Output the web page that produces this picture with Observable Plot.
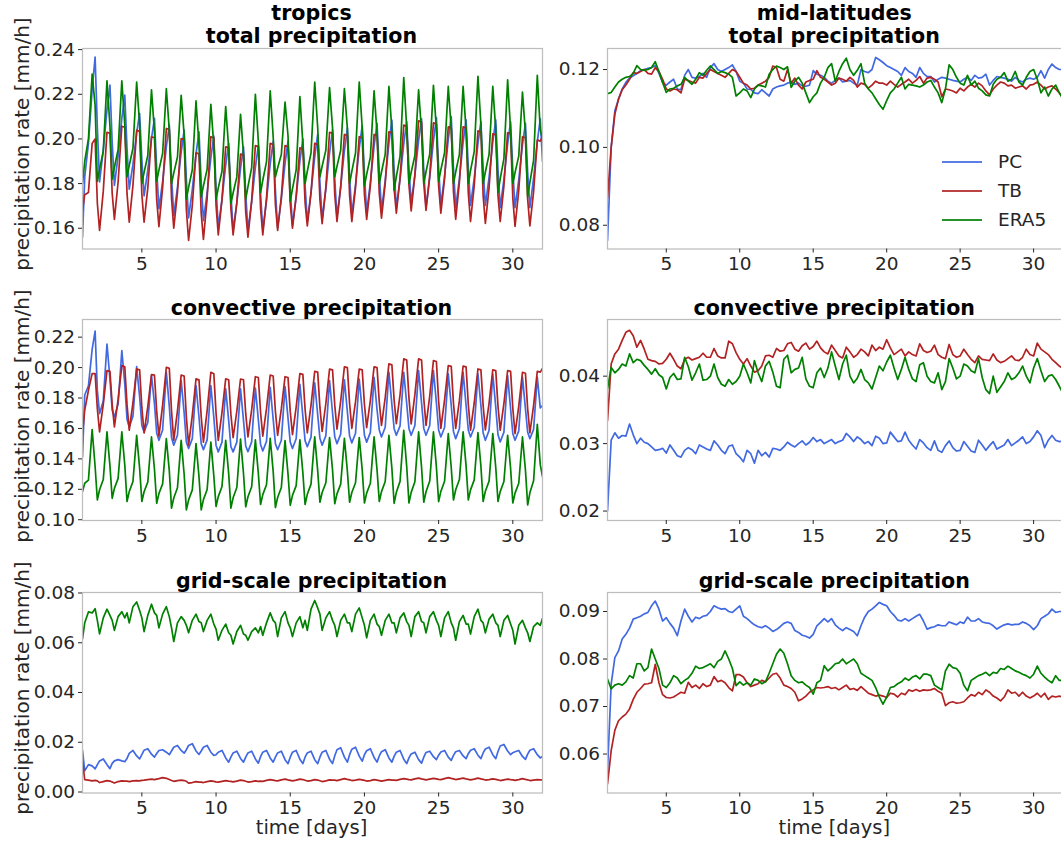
<!DOCTYPE html>
<html>
<head>
<meta charset="utf-8">
<script src="https://cdn.jsdelivr.net/npm/d3@7"></script>
<script src="https://cdn.jsdelivr.net/npm/@observablehq/plot@0.6"></script>
<style>
  html, body { margin: 0; padding: 0; background: #fff; overflow: hidden; }
  #fig { position: relative; width: 1061px; height: 843px; overflow: hidden;
         font-family: "DejaVu Sans", sans-serif; color: #262626; background: #fff; }
  .title { position: absolute; transform: translate(-50%, -50%); white-space: nowrap;
           font-weight: bold; font-size: 20.6px; line-height: 1; color: #000; }
  .xlab { position: absolute; transform: translate(-50%, -50%); white-space: nowrap;
          font-size: 19.5px; line-height: 1; }
  .ylab { position: absolute; transform: translate(-50%, -50%) rotate(-90deg); white-space: nowrap;
          font-size: 20px; line-height: 1; }
  .leg-line { position: absolute; height: 2px; width: 40px; opacity: 0.85; }
  .leg-text { position: absolute; transform: translateY(-50%); font-size: 18.5px; line-height: 1; }
</style>
</head>
<body>
<div id="fig"></div>
<script>
// Models, in drawing order, and their line colours
const models = ["PC", "TB", "ERA5"];
const colors = ["#4169e1", "#b22222", "#008000"];

// Sample times within each day (fraction of a day); the last entry of every
// series is a single value at the start of day 32
const tropicsPhase = [0, 0.15, 0.4, 0.65, 0.85];
const midlatPhase = [0, 0.25, 0.5, 0.75];
const dayTicks = [5, 10, 15, 20, 25, 30];

// ---- tropics, total precipitation [mm/h] (one inner list per day) ----
const tropicsTotalPC = [
  [.156,.183,.198,.222,.2367],[.2052,.1807,.195,.213,.2241],[.1987,.1792,.1925,.2092,.2196],[.1958,.1775,.1887,.2027,.2114],
  [.1905,.1745,.186,.2003,.2092],[.1863,.1687,.181,.1965,.2062],[.1833,.1657,.1783,.1941,.204],[.1817,.1646,.1773,.1933,.2032],
  [.1807,.1634,.1759,.1915,.2013],[.1784,.1605,.1728,.1883,.198],[.1759,.159,.1713,.1868,.1965],[.1753,.1592,.1717,.1873,.197],
  [.1756,.1592,.1724,.1888,.199],[.177,.1602,.173,.189,.199],[.1776,.1612,.174,.19,.2],[.1791,.1632,.176,.192,.202],
  [.1806,.1642,.1774,.1938,.204],[.182,.1652,.1784,.1948,.205],[.183,.1662,.1794,.1958,.206],[.184,.1672,.1804,.1968,.207],
  [.1849,.168,.1813,.198,.2084],[.1864,.1692,.1819,.1978,.2077],[.187,.1712,.1837,.1993,.209],[.1856,.1692,.1825,.1991,.2095],
  [.1872,.1702,.1834,.1998,.21],[.1869,.1692,.1822,.1984,.2085],[.1868,.1702,.1825,.198,.2077],[.1864,.1702,.1828,.1986,.2085],
  [.1864,.1692,.1819,.1978,.2077],[.1859,.1692,.1817,.1973,.207],[.185,.1692,.1824,.1988,.209],[.19]
];
const tropicsTotalTB = [
  [.168,.175,.176,.198,.2],[.1713,.159,.1766,.203,.2025],[.1757,.164,.1807,.2057,.2052],[.1756,.1627,.1792,.2039,.2034],
  [.1751,.1627,.178,.201,.2005],[.1728,.1607,.1783,.2047,.2042],[.1734,.16,.1761,.2002,.1997],[.1683,.1545,.1702,.1938,.1933],
  [.1666,.155,.1734,.201,.2005],[.1702,.157,.1728,.1965,.196],[.1689,.157,.1715,.1932,.1927],[.1672,.156,.1724,.197,.1965],
  [.169,.157,.1734,.198,.1975],[.1707,.159,.1742,.197,.1965],[.1711,.16,.1744,.196,.1955],[.1715,.161,.1758,.198,.1975],
  [.1728,.162,.1784,.203,.2025],[.175,.163,.1786,.202,.2015],[.1747,.163,.1782,.201,.2005],[.1751,.164,.1792,.202,.2015],
  [.1757,.1645,.18,.2032,.2027],[.1777,.1667,.1825,.2062,.2057],[.1793,.1678,.1839,.2081,.2076],[.18,.168,.1837,.2072,.2067],
  [.1789,.1667,.1822,.2054,.2049],[.1764,.164,.1806,.2054,.2049],[.1757,.163,.1792,.2036,.2031],[.1746,.1622,.1782,.2023,.2018],
  [.1748,.163,.179,.2028,.2023],[.1734,.1608,.1769,.201,.2005],[.173,.161,.1764,.1995,.199],[.201]
];
const tropicsTotalERA5 = [
  [.18,.19,.2,.229,.215],[.181,.1864,.1945,.226,.2058],[.182,.1873,.1952,.226,.2062],[.183,.1881,.1958,.2255,.2064],
  [.18,.185,.1926,.222,.2031],[.181,.186,.1935,.2225,.2038],[.18,.1847,.1919,.2195,.2017],[.173,.1783,.1862,.217,.1972],
  [.174,.179,.1865,.2155,.1968],[.173,.178,.1855,.2145,.1958],[.171,.1758,.183,.211,.193],[.173,.1786,.1871,.22,.1989],
  [.176,.1815,.1897,.2215,.201],[.183,.187,.193,.2165,.2014],[.172,.1776,.1861,.219,.1979],[.18,.1855,.1937,.2255,.205],
  [.183,.1878,.195,.223,.205],[.183,.1877,.1949,.2225,.2047],[.18,.1855,.1937,.2255,.205],[.179,.1841,.1918,.2215,.2024],
  [.18,.1852,.1931,.2235,.2039],[.177,.1831,.1922,.2275,.2048],[.18,.185,.1926,.222,.2031],[.18,.1853,.1932,.224,.2042],
  [.181,.1861,.1938,.2235,.2044],[.18,.1852,.1931,.2235,.2039],[.18,.1858,.1944,.228,.2064],[.18,.1852,.1931,.2235,.2039],
  [.176,.1821,.1912,.2265,.2038],[.18,.1849,.1923,.221,.2026],[.174,.1805,.1904,.2285,.204],[.2]
];

// ---- tropics, convective precipitation [mm/h] ----
const tropicsConvPC = [
  [.1413,.182,.188,.212,.224],[.185,.1697,.178,.2155,.1925],[.172,.1675,.176,.2111,.1893],[.166,.161,.168,.2006,.1808],
  [.162,.1577,.164,.1947,.1762],[.157,.1522,.159,.1969,.1745],[.154,.149,.1555,.1915,.1702],[.151,.1468,.1533,.1882,.1675],
  [.15,.1461,.1525,.1882,.1672],[.149,.1446,.151,.186,.1653],[.148,.1446,.151,.186,.1653],[.1485,.1448,.1512,.1865,.1657],
  [.1495,.1452,.1515,.187,.1661],[.15,.146,.1522,.1875,.1668],[.151,.1468,.1532,.189,.1679],[.152,.148,.1543,.19,.169],
  [.1535,.149,.1553,.1915,.1703],[.1545,.15,.1563,.192,.171],[.155,.1505,.1568,.1925,.1715],[.1555,.151,.1574,.1935,.1723],
  [.159,.1544,.1608,.1969,.1757],[.16,.1555,.1617,.1969,.1762],[.16,.1555,.1619,.198,.1768],[.16,.1555,.1619,.198,.1768],
  [.159,.1544,.1606,.1958,.1751],[.158,.1533,.1598,.1969,.1751],[.159,.1544,.1606,.1958,.1751],[.157,.1522,.1587,.1958,.174],
  [.156,.1511,.1576,.1947,.1729],[.1565,.1522,.1584,.1937,.173],[.1575,.1533,.1594,.1937,.1735],[.1751]
];
const tropicsConvTB = [
  [.1566,.172,.185,.196,.196],[.173,.1577,.1758,.198,.1975],[.1758,.161,.1791,.2013,.2005],[.1758,.1588,.1769,.1991,.1985],
  [.1738,.157,.1743,.1954,.195],[.1712,.155,.1753,.2002,.1995],[.1714,.1522,.1715,.195,.1945],[.1674,.149,.1686,.1926,.192],
  [.1676,.151,.1717,.1969,.196],[.17,.1522,.1704,.1926,.192],[.1694,.154,.1713,.1925,.192],[.1697,.1545,.1722,.194,.1935],
  [.1706,.155,.173,.195,.1945],[.1713,.1555,.1728,.194,.1935],[.1712,.156,.174,.196,.1955],[.1726,.157,.1752,.1975,.197],
  [.1738,.158,.1764,.199,.1985],[.1753,.1595,.1779,.2005,.2],[.1762,.16,.1776,.199,.1985],[.1759,.1605,.1785,.2005,.2],
  [.1774,.162,.1802,.2024,.2018],[.1788,.1631,.1822,.2057,.205],[.1801,.163,.1822,.2057,.205],[.1795,.162,.1812,.2046,.204],
  [.1778,.16,.1786,.2013,.2008],[.1765,.16,.1784,.201,.2005],[.1757,.1588,.1769,.1991,.1985],[.175,.159,.1767,.1985,.198],
  [.1747,.1588,.1764,.198,.1975],[.1732,.1566,.1747,.1969,.1963],[.1729,.157,.1752,.1975,.197],[.1995]
];
const tropicsConvERA5 = [
  [.1185,.124,.126,.1592,.135],[.113,.1197,.1264,.1577,.1354],[.1141,.1206,.1272,.1577,.1359],[.112,.1185,.1251,.1555,.1338],
  [.112,.1184,.1247,.1544,.1332],[.1108,.1172,.1236,.1533,.1321],[.1076,.1143,.121,.1522,.1299],[.1065,.113,.1196,.15,.1283],
  [.1065,.1132,.1199,.1511,.1288],[.1087,.1152,.1218,.1522,.1305],[.1076,.1144,.1212,.153,.1303],[.1085,.1151,.1217,.1525,.1305],
  [.11,.1165,.123,.1535,.1318],[.108,.1146,.1212,.152,.13],[.1095,.116,.1224,.1525,.131],[.11,.1167,.1234,.1545,.1323],
  [.1115,.1179,.1243,.154,.1328],[.1105,.117,.1234,.1535,.132],[.1115,.1179,.1243,.154,.1328],[.111,.1175,.124,.1545,.1328],
  [.112,.1185,.1251,.1555,.1338],[.1108,.118,.1252,.1588,.1348],[.111,.118,.125,.1577,.1344],[.1115,.1184,.1254,.1577,.1346],
  [.1119,.1186,.1253,.1566,.1343],[.113,.1197,.1264,.1577,.1354],[.113,.1196,.1262,.1572,.1351],[.112,.1187,.1254,.1566,.1343],
  [.112,.1185,.1251,.1555,.1338],[.111,.1175,.124,.1544,.1327],[.1097,.1177,.1256,.1627,.1362],[.1283]
];

// ---- tropics, grid-scale precipitation [mm/h] ----
const tropicsGridPC = [
  [.0167,.0085,.011,.0105,.0093],[.011,.0125,.0133,.011,.0094],[.0115,.0125,.013,.0125,.0122],[.0135,.0155,.0167,.0145,.0133],
  [.015,.0168,.0174,.0152,.014],[.0155,.0167,.017,.016,.015],[.0165,.018,.0187,.0167,.0156],[.017,.0187,.0194,.0165,.0151],
  [.0165,.018,.0187,.016,.0147],[.015,.016,.0167,.0137,.012],[.014,.0157,.0164,.0135,.012],[.014,.0157,.0164,.0133,.0116],
  [.0142,.016,.0167,.0137,.012],[.014,.0157,.0164,.013,.0114],[.014,.016,.0167,.0132,.0114],[.014,.0157,.0164,.013,.0114],
  [.014,.016,.0167,.0132,.0114],[.0146,.017,.0178,.014,.012],[.015,.0172,.018,.0144,.0124],[.015,.0166,.0174,.0139,.012],
  [.0145,.0162,.017,.0137,.012],[.0143,.016,.0167,.0132,.0114],[.0137,.0153,.016,.013,.0116],[.014,.0159,.0164,.0142,.013],
  [.0148,.0161,.0167,.014,.0127],[.0147,.0162,.0167,.0145,.0134],[.0154,.0168,.0174,.0148,.0134],[.0157,.0173,.018,.015,.0134],
  [.0163,.0185,.0191,.0165,.015],[.0158,.0162,.0167,.0143,.0131],[.0152,.0168,.0174,.015,.0137],[.0143]
];
const tropicsGridTB = [
  [.0124,.005,.0048,.0045,.0047],[.0045,.0038,.0042,.0046,.0044],[.004,.0036,.0042,.0045,.0044],[.0044,.0042,.0045,.0046,.0045],
  [.0047,.0048,.005,.0052,.005],[.0052,.0054,.0058,.0055,.005],[.0046,.0043,.0046,.0048,.0046],[.0043,.0036,.0038,.0042,.004],
  [.004,.0038,.0042,.0045,.0043],[.0041,.004,.0043,.0046,.0044],[.0043,.0041,.0044,.0048,.0046],[.0043,.004,.0042,.0045,.0043],
  [.0044,.0043,.0047,.005,.0048],[.0046,.0045,.0049,.0052,.0049],[.0047,.0045,.0048,.0052,.005],[.0047,.0044,.0046,.005,.0048],
  [.0045,.0042,.0045,.0049,.0048],[.0048,.0046,.005,.0054,.0051],[.0049,.0046,.0048,.0051,.0049],[.0047,.0044,.0046,.005,.0048],
  [.0046,.0044,.0047,.005,.0048],[.0048,.0047,.0051,.0054,.0052],[.005,.0049,.0053,.0056,.0053],[.0051,.0049,.0052,.0055,.0053],
  [.0051,.005,.0054,.0058,.0055],[.0053,.005,.0053,.0056,.0053],[.0051,.0049,.0052,.0056,.0053],[.0051,.0048,.005,.0053,.0051],
  [.0049,.0046,.0049,.0052,.005],[.0049,.0047,.005,.0054,.0051],[.0049,.0046,.0048,.005,.0049],[.0049]
];
const tropicsGridERA5 = [
  [.0616,.068,.0724,.072,.0737],[.069,.0636,.07,.0735,.071],[.069,.065,.0705,.0725,.07],[.072,.068,.0745,.0764,.073],
  [.07,.0645,.071,.0755,.072],[.071,.066,.0715,.0745,.0705],[.066,.0605,.068,.0705,.069],[.067,.064,.069,.0715,.0685],
  [.068,.0645,.069,.0715,.0675],[.0655,.061,.065,.0675,.064],[.063,.0595,.0645,.067,.0635],[.063,.061,.0645,.066,.064],
  [.0665,.063,.068,.072,.069],[.068,.0625,.07,.0725,.068],[.066,.0625,.068,.0705,.066],[.069,.065,.0735,.077,.074],
  [.0715,.065,.07,.0725,.069],[.067,.0625,.069,.0715,.068],[.068,.0645,.0715,.074,.07],[.067,.062,.069,.0715,.0675],
  [.0665,.063,.069,.0715,.068],[.068,.064,.07,.072,.0685],[.067,.0625,.0705,.0725,.0685],[.068,.064,.0705,.0725,.069],
  [.067,.0625,.07,.0725,.068],[.066,.061,.0685,.071,.0675],[.0675,.0635,.0705,.0735,.069],[.068,.064,.0695,.0715,.068],
  [.067,.0625,.069,.071,.0675],[.065,.0595,.067,.069,.066],[.064,.0605,.0665,.068,.067],[.0697]
];

// ---- mid-latitudes, total precipitation [mm/h] ----
const midlatTotalPC = [
  [.0761,.1,.1094,.1124],[.115,.1167,.1178,.1184],[.119,.1197,.12,.1203],[.1205,.121,.119,.1167],[.116,.1168,.1175,.115],
  [.1148,.1185,.12,.118],[.1178,.1182,.119,.118],[.1205,.1215,.12,.1195],[.12,.1205,.1212,.1195],[.117,.1165,.115,.1149],
  [.114,.1138,.1148,.114],[.1132,.115,.1155,.1158],[.116,.1165,.1168,.1162],[.1165,.1158,.1157,.116],[.1197,.1188,.1185,.118],
  [.117,.1165,.1172,.1178],[.1168,.117,.1172,.1165],[.116,.12,.1195,.1192],[.12,.1231,.1225,.1218],[.121,.1205,.12,.1195],
  [.1185,.1205,.1195,.119],[.118,.1205,.119,.1182],[.1182,.1168,.1175,.118],[.1178,.1175,.1172,.117],[.1168,.1175,.118,.1172],
  [.1185,.1178,.118,.1188],[.116,.1172,.1182,.118],[.1178,.1175,.117,.118],[.1172,.1168,.1175,.1178],[.1175,.118,.1197,.1178],
  [.12,.1214,.1205,.12],[.12]
];
const midlatTotalTB = [
  [.087,.1,.1085,.1124],[.1148,.116,.1175,.1192],[.119,.1195,.12,.119],[.1188,.1205,.1195,.1175],[.115,.1145,.115,.1148],
  [.114,.1175,.1172,.1168],[.1165,.118,.1178,.119],[.12,.1195,.119,.1185],[.118,.119,.12,.1195],[.118,.1165,.116,.115],
  [.1152,.116,.1165,.117],[.118,.1209,.1205,.1175],[.117,.12,.1165,.1178],[.116,.115,.1168,.1172],[.1175,.1197,.118,.1175],
  [.1168,.116,.1165,.1178],[.1175,.117,.118,.1172],[.1155,.1165,.1162,.1152],[.116,.117,.1165,.1165],[.116,.117,.1162,.1155],
  [.1162,.1168,.1175,.1165],[.1172,.1182,.1165,.1178],[.118,.1175,.1168,.113],[.115,.1148,.1145,.114],[.1152,.1145,.1155,.1162],
  [.1155,.1165,.1158,.1145],[.1135,.115,.116,.1168],[.1165,.1158,.116,.1152],[.1155,.1158,.115,.116],[.1162,.1168,.116,.115],
  [.1155,.1158,.115,.114],[.1128]
];
const midlatTotalERA5 = [
  [.1138,.1141,.1155,.1168],[.1175,.118,.1182,.119],[.121,.12,.1198,.12],[.1205,.122,.1195,.1167],[.1141,.115,.1152,.1158],
  [.1162,.118,.117,.1162],[.1175,.1192,.1185,.1198],[.1209,.12,.119,.1195],[.1192,.1188,.118,.1132],[.114,.115,.1145,.1128],
  [.115,.116,.1158,.1155],[.1188,.12,.1209,.1205],[.12,.1207,.1154,.117],[.118,.1165,.114,.1115],[.113,.114,.1165,.118],
  [.1205,.1215,.117,.1195],[.1215,.1229,.12,.1185],[.1198,.1215,.1165,.115],[.114,.1125,.111,.1098],[.112,.114,.115,.1165],
  [.118,.115,.1162,.116],[.1158,.1155,.116,.1168],[.1172,.1155,.114,.1115],[.115,.1212,.12,.118],[.1165,.116,.1185,.116],
  [.117,.1152,.1145,.1135],[.1132,.1162,.1175,.118],[.1192,.117,.1175,.1195],[.1168,.116,.118,.1195],[.12,.1175,.114,.1155],
  [.1132,.115,.116,.114],[.1124]
];

// ---- mid-latitudes, convective precipitation [mm/h] ----
const midlatConvPC = [
  [.02,.0305,.0316,.0308],[.0312,.0311,.0329,.0313],[.03,.0308,.0302,.03],[.0295,.029,.0291,.0293],[.0286,.0298,.029,.0282],
  [.028,.029,.0294,.0291],[.0285,.0298,.0295,.0292],[.029,.0304,.0298,.029],[.0285,.0296,.0298,.0285],[.028,.0273,.029,.0285],
  [.0271,.029,.0282,.0287],[.028,.0293,.0292,.029],[.0295,.0302,.0298,.0295],[.03,.0304,.0298,.0302],[.0309,.0303,.0306,.03],
  [.0303,.0306,.03,.0303],[.0305,.0315,.031,.0303],[.031,.0306,.03,.0303],[.0297,.0311,.0308,.03],[.0301,.0317,.031,.0303],
  [.0304,.0317,.0305,.0298],[.0292,.0306,.0301,.0294],[.029,.0304,.029,.0287],[.0297,.0304,.0294,.0289],[.029,.0303,.0296,.0289],
  [.0287,.0305,.0298,.029],[.0297,.0303,.0292,.0295],[.0298,.0306,.0297,.0301],[.0305,.031,.03,.0303],[.031,.0319,.0312,.0294],
  [.0305,.0312,.0305,.0303],[.0304]
];
const midlatConvTB = [
  [.0334,.0418,.0433,.044],[.0453,.0465,.0468,.046],[.0443,.0453,.044,.0425],[.0423,.0422,.0418,.0419],[.0425,.0434,.0425,.0415],
  [.0411,.0425,.0428,.0424],[.0426,.0428,.0434,.0428],[.0428,.0441,.043,.0427],[.0427,.0452,.0448,.0435],[.0425,.0418,.0426,.0415],
  [.0406,.0408,.0415,.043],[.0431,.0428,.0441,.0437],[.0438,.0448,.045,.044],[.0437,.0445,.0449,.044],[.0444,.0452,.0442,.0436],
  [.0433,.0446,.0438,.043],[.0427,.0443,.0436,.0428],[.0432,.044,.0436,.043],[.0446,.0438,.0443,.044],[.0454,.0442,.0432,.0436],
  [.044,.043,.0436,.0432],[.043,.0448,.0438,.0435],[.0437,.0446,.0432,.0428],[.0426,.0447,.0432,.0428],[.043,.044,.0432,.0425],
  [.042,.043,.0425,.0424],[.0423,.0433,.0424,.042],[.0422,.0426,.043,.0424],[.0423,.0428,.044,.0432],[.043,.0449,.044,.0436],
  [.0432,.0425,.042,.0415],[.0411]
];
const midlatConvERA5 = [
  [.0381,.0413,.0405,.041],[.0418,.0415,.0433,.042],[.0425,.0423,.0416,.041],[.0403,.0411,.0402,.0398],[.0381,.0398,.0404,.0395],
  [.0396,.0428,.0414,.0394],[.0405,.0418,.0394,.0395],[.04,.0418,.0398,.0388],[.0385,.0395,.0388,.0392],[.04,.0418,.0405,.039],
  [.0423,.0405,.0392,.0415],[.0422,.0406,.0385,.0383],[.0425,.0431,.0405,.041],[.0412,.0428,.0396,.0385],[.0383,.0405,.0412,.0398],
  [.0412,.0436,.0415,.0395],[.0418,.0431,.04,.039],[.0397,.041,.0395,.039],[.0381,.0398,.0415,.0408],[.0421,.0431,.0412,.0395],
  [.041,.0428,.041,.0396],[.0392,.0417,.042,.04],[.0392,.039,.0405,.038],[.0392,.0426,.0412,.0396],[.04,.0418,.0415,.0408],
  [.0405,.0426,.0398,.038],[.0374,.04,.0376,.0384],[.0392,.0405,.0395,.0398],[.0405,.0415,.04,.039],[.0412,.0426,.0408,.0392],
  [.04,.0402,.0395,.0385],[.0374]
];

// ---- mid-latitudes, grid-scale precipitation [mm/h] ----
const midlatGridPC = [
  [.0565,.0747,.0803,.0817],[.0842,.0852,.0865,.0884],[.0887,.089,.0895,.0898],[.0912,.0922,.0905,.088],[.0887,.0875,.0865,.0849],
  [.088,.0905,.089,.0878],[.0888,.0885,.089,.0892],[.09,.0912,.0908,.0905],[.0906,.09,.0898,.0905],[.0912,.089,.0885,.0878],
  [.0872,.0868,.0866,.087],[.0865,.0858,.0862,.0868],[.0875,.0878,.0875,.086],[.0856,.085,.0848,.0844],[.0852,.087,.0877,.0885],
  [.0878,.0885,.0872,.0865],[.086,.0866,.0862,.0858],[.0849,.087,.0888,.09],[.0905,.0912,.0919,.0915],[.0912,.09,.0892,.0882],
  [.088,.0885,.088,.0885],[.089,.0894,.088,.0863],[.0866,.0868,.0872,.087],[.087,.0878,.0875,.0872],[.0878,.0875,.0888,.088],
  [.088,.0885,.0878,.0876],[.0875,.087,.0863,.0868],[.0872,.0874,.0872,.0873],[.0873,.0878,.0875,.087],[.0862,.087,.0885,.089],
  [.0895,.0905,.0898,.09],[.09]
];
const midlatGridTB = [
  [.0537,.0607,.065,.067],[.0678,.0684,.0695,.0715],[.073,.0738,.0747,.0748],[.075,.0789,.075,.0725],[.0719,.0718,.072,.0725],
  [.073,.0728,.0751,.074],[.0745,.0738,.0748,.0742],[.0745,.0763,.0752,.0755],[.075,.074,.0733,.0767],[.0767,.0762,.075,.0742],
  [.0745,.0748,.0755,.0752],[.076,.0768,.077,.076],[.0745,.0742,.0738,.073],[.0712,.0716,.0722,.073],[.0735,.074,.0739,.074],
  [.0742,.0738,.074,.0735],[.074,.0745,.0736,.0738],[.0734,.0742,.0735,.0728],[.0725,.0722,.0724,.0722],[.0719,.0728,.0726,.072],
  [.0728,.0725,.0735,.0732],[.0736,.0732,.0735,.0734],[.0735,.0738,.0732,.0728],[.0702,.0708,.071,.0707],[.0708,.071,.0718,.0725],
  [.0722,.073,.0725,.0735],[.073,.0722,.0718,.0712],[.072,.0735,.0728,.073],[.0722,.073,.0722,.0718],[.0722,.0728,.072,.0728],
  [.0715,.0722,.072,.0722],[.072]
];
const midlatGridERA5 = [
  [.0758,.0737,.0745,.0748],[.0745,.0752,.0765,.076],[.079,.079,.0775,.0782],[.0821,.08,.078,.0745],[.074,.075,.0765,.076],
  [.0748,.0755,.076,.077],[.0785,.078,.0782,.0786],[.079,.0782,.0795,.08],[.0817,.08,.078,.0744],[.0752,.0745,.075,.0745],
  [.0758,.0755,.0748,.0752],[.077,.079,.081,.0821],[.0812,.079,.0765,.0755],[.075,.0752,.0745,.074],[.0726,.075,.0755,.0786],
  [.0775,.0782,.079,.0792],[.08,.079,.0795,.08],[.079,.077,.0765,.076],[.0755,.074,.072,.0705],[.072,.074,.0742,.0748],
  [.0752,.076,.0755,.0762],[.0765,.0758,.0768,.0768],[.0765,.0745,.074,.0735],[.0775,.0789,.0782,.078],[.077,.0745,.0733,.0755],
  [.076,.0765,.0768,.0772],[.0765,.0772,.077,.078],[.0778,.0785,.078,.0775],[.0772,.0768,.0765,.076],[.0768,.0785,.077,.0762],
  [.0755,.075,.0765,.0755],[.0755]
];

// Flatten one series (list of days) into rows {t, v, model}
function toRows(days, phase, model) {
  return days.flatMap((day, i) => day.map((v, j) => ({t: i + 1 + phase[j], v, model})));
}

// Panel layout: frame edges in page pixels, y domain and ticks
const colL = [81.5, 541.5], colR = [606.5, 1062];
const rowY = [[47.5, 248], [319, 520], [591.5, 792]];
const panels = [
  {col: colL, row: rowY[0], yDomain: [0.1507, 0.2405], yTicks: [0.16, 0.18, 0.20, 0.22, 0.24], phase: tropicsPhase,
   series: [tropicsTotalPC, tropicsTotalTB, tropicsTotalERA5]},
  {col: colR, row: rowY[0], yDomain: [0.0739, 0.1254], yTicks: [0.08, 0.10, 0.12], phase: midlatPhase,
   series: [midlatTotalPC, midlatTotalTB, midlatTotalERA5]},
  {col: colL, row: rowY[1], yDomain: [0.0995, 0.2316], yTicks: [0.10, 0.12, 0.14, 0.16, 0.18, 0.20, 0.22], phase: tropicsPhase,
   series: [tropicsConvPC, tropicsConvTB, tropicsConvERA5]},
  {col: colR, row: rowY[1], yDomain: [0.0186, 0.0484], yTicks: [0.02, 0.03, 0.04], phase: midlatPhase,
   series: [midlatConvPC, midlatConvTB, midlatConvERA5]},
  {col: colL, row: rowY[2], yDomain: [-0.0004, 0.0802], yTicks: [0, 0.02, 0.04, 0.06, 0.08], phase: tropicsPhase,
   series: [tropicsGridPC, tropicsGridTB, tropicsGridERA5]},
  {col: colR, row: rowY[2], yDomain: [0.0518, 0.094], yTicks: [0.06, 0.07, 0.08, 0.09], phase: midlatPhase,
   series: [midlatGridPC, midlatGridTB, midlatGridERA5]}
];

const fig = document.getElementById("fig");
const ML = 90, MR = 12, MT = 8, MB = 36;

function drawPanel(p) {
  const [x0, x1] = p.col, [y0, y1] = p.row;
  const rows = models.flatMap((m, k) => toRows(p.series[k], p.phase, m));
  const chart = Plot.plot({
    width: x1 - x0 + ML + MR,
    height: y1 - y0 + MT + MB,
    marginLeft: ML, marginRight: MR, marginTop: MT, marginBottom: MB,
    style: {fontFamily: "'DejaVu Sans', sans-serif", fontSize: "18.5px", color: "#262626",
            background: "none", overflow: "visible", maxWidth: "none"},
    x: {domain: [1, 32]},
    y: {domain: p.yDomain},
    color: {domain: models, range: colors},
    marks: [
      Plot.line(rows, {x: "t", y: "v", z: "model", stroke: "model", strokeWidth: 1.7, clip: true}),
      Plot.frame({stroke: "#bdbdbd", strokeWidth: 1.25}),
      Plot.axisX({ticks: dayTicks, tickSize: 4, tickPadding: 4, label: null}),
      Plot.axisY({ticks: p.yTicks, tickSize: 4, tickPadding: 3.5, tickFormat: d3.format(".2f"), label: null})
    ]
  });
  chart.style.position = "absolute";
  chart.style.left = (x0 - ML) + "px";
  chart.style.top = (y0 - MT) + "px";
  fig.appendChild(chart);
}
panels.forEach(drawPanel);

// Text around the panels
function addText(cls, text, x, y) {
  const el = document.createElement("div");
  el.className = cls;
  el.textContent = text;
  el.style.left = x + "px";
  el.style.top = y + "px";
  fig.appendChild(el);
}
const cxL = (colL[0] + colL[1]) / 2, cxR = (colR[0] + colR[1]) / 2;
addText("title", "tropics", cxL, 13);
addText("title", "total precipitation", cxL, 36);
addText("title", "mid-latitudes", cxR, 13);
addText("title", "total precipitation", cxR, 36);
addText("title", "convective precipitation", cxL, 308);
addText("title", "convective precipitation", cxR, 308);
addText("title", "grid-scale precipitation", cxL, 581);
addText("title", "grid-scale precipitation", cxR, 581);
rowY.forEach(([a, b]) => addText("ylab", "precipitation rate [mm/h]", 22, (a + b) / 2 - 4));
addText("xlab", "time [days]", cxL, 828);
addText("xlab", "time [days]", cxR, 828);

// Legend inside the mid-latitude total panel
models.forEach((m, k) => {
  const y = 162 + k * 29;
  const line = document.createElement("div");
  line.className = "leg-line";
  line.style.left = "942px";
  line.style.top = (y - 1) + "px";
  line.style.background = colors[k];
  fig.appendChild(line);
  const t = document.createElement("div");
  t.className = "leg-text";
  t.textContent = m;
  t.style.left = "998px";
  t.style.top = y + "px";
  fig.appendChild(t);
});
</script>
</body>
</html>
